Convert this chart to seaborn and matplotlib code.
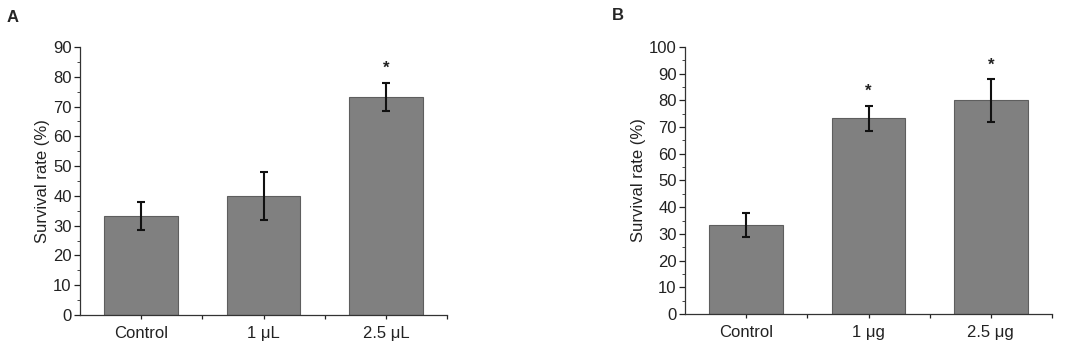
import pandas as pd
import matplotlib.pyplot as plt
import seaborn as sns
from matplotlib.ticker import MultipleLocator

sns.set_style("ticks")
plt.rcParams["font.family"] = ["Liberation Sans", "DejaVu Sans"]

# panel A data
cats_a = ["Control", "1 μL", "2.5 μL"]
vals_a = [33.3, 40.0, 73.3]
errs_a = [4.6, 8.0, 4.7]
star_a = [False, False, True]

# panel B data
cats_b = ["Control", "1 μg", "2.5 μg"]
vals_b = [33.3, 73.3, 80.0]
errs_b = [4.6, 4.7, 8.0]
star_b = [False, True, True]

fig = plt.figure(figsize=(10.84, 3.59), dpi=100)
ax_a = fig.add_axes([0.0738, 0.1226, 0.3386, 0.7465])
ax_b = fig.add_axes([0.6319, 0.1254, 0.3386, 0.7437])


def draw_panel(ax, cats, vals, errs, stars, ymax, label, lx, ly):
    df = pd.DataFrame({"group": cats, "rate": vals})
    sns.barplot(data=df, x="group", y="rate", ax=ax, color="#808080",
                saturation=1, width=0.6, edgecolor="#5e5e5e", linewidth=0.8,
                errorbar=None)
    ax.errorbar(range(len(cats)), vals, yerr=errs, fmt="none", ecolor="#111111",
                elinewidth=1.5, capsize=3, capthick=1.5)
    for i, (v, e, s) in enumerate(zip(vals, errs, stars)):
        if s:
            ax.text(i, v + e + 2.5, "*", ha="center", va="bottom", fontsize=12,
                    fontweight="bold", color="#222222")
    ax.set_xlim(-0.5, 2.5)
    ax.set_ylim(0, ymax)
    ax.yaxis.set_major_locator(MultipleLocator(10))
    ax.yaxis.set_minor_locator(MultipleLocator(5))
    ax.set_xticks([0, 0.5, 1, 1.5, 2, 2.5])
    ax.set_xticklabels([cats[0], "", cats[1], "", cats[2], ""])
    ax.tick_params(axis="both", labelsize=12, colors="#222222", width=0.9)
    ax.tick_params(axis="y", which="major", length=4, pad=2)
    ax.tick_params(axis="y", which="minor", length=2)
    ax.tick_params(axis="x", length=3, pad=5)
    ax.set_xlabel("")
    ax.set_ylabel("Survival rate (%)", fontsize=12, color="#222222", labelpad=2)
    sns.despine(ax=ax)
    for sp in ["left", "bottom"]:
        ax.spines[sp].set_color("#333333")
        ax.spines[sp].set_linewidth(0.9)
    fig.text(lx, ly, label, fontsize=12, fontweight="bold", ha="left", va="center")


draw_panel(ax_a, cats_a, vals_a, errs_a, star_a, 90, "A", 0.006, 0.952)
draw_panel(ax_b, cats_b, vals_b, errs_b, star_b, 100, "B", 0.564, 0.957)

fig.savefig("out.png", dpi=100, facecolor="white")
